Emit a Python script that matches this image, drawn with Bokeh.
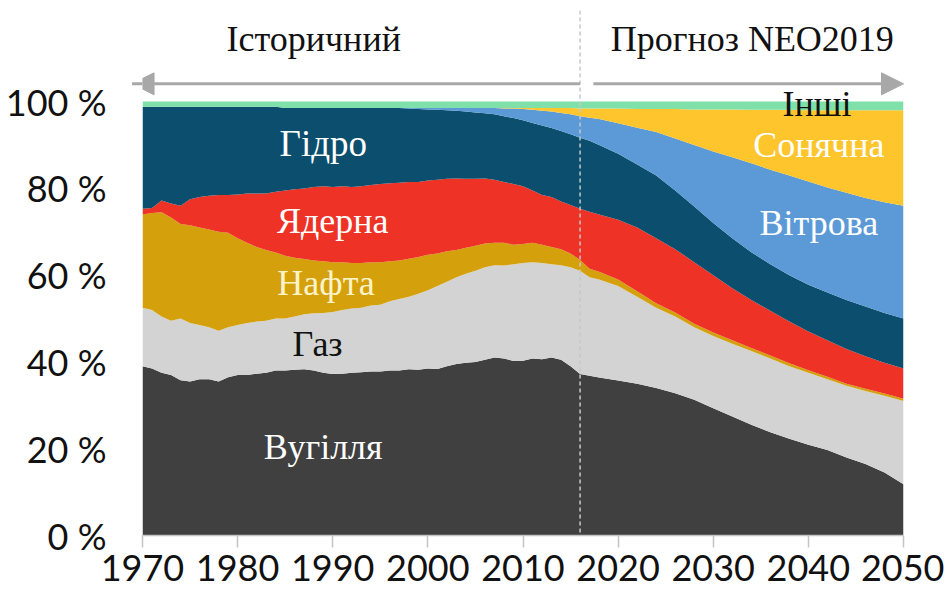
from bokeh.plotting import figure
from bokeh.models import ColumnDataSource, Range1d, FixedTicker, Span, Label, Arrow, NormalHead
from bokeh.embed import file_html
from bokeh.resources import INLINE

# ---------------- data (shares of power generation, %) ----------------
years = [1970, 1971, 1972, 1973, 1974, 1975, 1976, 1977, 1978, 1979,
         1980, 1981, 1982, 1983, 1984, 1985, 1986, 1987, 1988, 1989,
         1990, 1991, 1992, 1993, 1994, 1995, 1996, 1997, 1998, 1999,
         2000, 2001, 2002, 2003, 2004, 2005, 2006, 2007, 2008, 2009,
         2010, 2011, 2012, 2013, 2014, 2015, 2016,
         2017, 2018, 2020, 2022, 2024, 2026, 2028, 2030, 2032, 2034,
         2036, 2038, 2040, 2042, 2044, 2046, 2048, 2050]

coal = [39.0, 38.5, 37.5, 37.0, 35.8, 35.5, 36.0, 36.0, 35.5, 36.5,
        37.0, 37.0, 37.3, 37.5, 38.0, 38.0, 38.2, 38.3, 38.0, 37.5,
        37.2, 37.3, 37.5, 37.6, 37.8, 37.8, 38.0, 38.0, 38.3, 38.2,
        38.5, 38.4, 39.0, 39.5, 39.8, 40.0, 40.5, 41.0, 40.8, 40.2,
        40.3, 40.8, 40.6, 41.0, 40.5, 39.0, 37.2,
        36.8, 36.4, 35.7, 35.0, 34.0, 32.8, 31.3, 29.3, 27.4, 25.5,
        23.8, 22.3, 20.9, 19.7, 18.0, 16.5, 14.5, 11.8]

gas = [13.5, 13.5, 13.0, 12.5, 14.2, 13.5, 12.5, 12.0, 11.7, 11.5,
       11.5, 12.0, 12.0, 12.0, 12.0, 12.0, 12.3, 12.7, 13.2, 13.8,
       14.3, 14.7, 14.8, 14.9, 15.2, 15.4, 16.0, 16.5, 16.7, 17.5,
       18.0, 19.1, 19.5, 20.0, 20.5, 21.0, 21.3, 21.3, 21.4, 22.3,
       22.5, 22.2, 22.2, 21.5, 21.8, 22.8, 23.8,
       22.7, 22.6, 21.8, 20.0, 18.5, 17.7, 16.7, 16.7, 16.8, 17.0,
       17.0, 16.7, 16.6, 16.3, 16.5, 16.8, 17.7, 19.2]

oil = [21.5, 22.3, 24.0, 23.8, 21.8, 22.5, 22.5, 22.5, 22.8, 21.8,
       20.0, 18.5, 17.2, 16.3, 15.2, 14.5, 13.5, 12.7, 12.2, 11.9,
       11.5, 11.0, 10.5, 10.3, 10.0, 9.8, 9.2, 8.9, 8.8, 8.5,
       8.2, 7.5, 7.0, 6.3, 6.0, 5.8, 5.5, 5.2, 5.3, 4.5,
       4.4, 4.5, 4.2, 4.0, 3.7, 3.2, 2.5,
       2.0, 1.8, 1.5, 1.3, 1.0, 0.9, 0.8, 0.8, 0.8, 0.7,
       0.7, 0.7, 0.6, 0.6, 0.5, 0.5, 0.5, 0.5]

nuclear = [1.3, 1.2, 2.7, 3.2, 4.2, 6.0, 7.0, 7.8, 8.5, 8.7,
           10.1, 11.3, 12.3, 13.0, 14.0, 15.0, 15.8, 16.3, 16.9, 17.3,
           17.3, 17.5, 17.5, 17.7, 17.8, 18.0, 18.0, 17.9, 17.7, 17.3,
           17.1, 17.0, 16.7, 16.5, 15.9, 15.4, 15.0, 14.5, 14.0, 14.0,
           13.3, 12.0, 11.5, 11.5, 11.0, 11.2, 11.8,
           13.1, 13.2, 13.8, 14.7, 15.0, 14.6, 14.2, 13.2, 12.0, 11.1,
           10.3, 9.6, 8.9, 8.4, 8.0, 7.5, 7.1, 7.0]

hydro = [23.5, 23.3, 21.6, 22.3, 22.8, 21.3, 20.8, 20.5, 20.3, 20.3,
         20.2, 20.0, 20.0, 20.0, 19.6, 19.0, 18.7, 18.5, 18.2, 18.0,
         18.2, 18.0, 18.2, 18.0, 17.7, 17.5, 17.3, 17.2, 16.9, 16.8,
         16.4, 16.1, 15.8, 15.6, 15.5, 15.3, 15.0, 15.1, 15.1, 15.2,
         15.2, 15.6, 16.0, 15.9, 16.2, 16.3, 16.4,
         16.4, 16.0, 15.2, 14.5, 14.5, 13.5, 12.8, 12.0, 11.5, 11.0,
         10.7, 10.7, 10.8, 11.0, 11.3, 11.5, 11.5, 11.5]

wind = [0.0, 0.0, 0.0, 0.0, 0.0, 0.0, 0.0, 0.0, 0.0, 0.0,
        0.0, 0.0, 0.0, 0.0, 0.0, 0.0, 0.0, 0.0, 0.0, 0.0,
        0.0, 0.0, 0.0, 0.0, 0.0, 0.0, 0.0, 0.0, 0.1, 0.2,
        0.3, 0.4, 0.5, 0.6, 0.8, 1.0, 1.2, 1.4, 1.8, 2.2,
        2.6, 3.0, 3.4, 3.8, 4.2, 4.6, 4.9,
        5.3, 6.0, 7.0, 8.5, 10.0, 12.0, 14.2, 16.5, 18.7, 20.5,
        21.8, 23.0, 23.8, 24.2, 24.7, 25.0, 25.5, 26.0]

solar = [0.0, 0.0, 0.0, 0.0, 0.0, 0.0, 0.0, 0.0, 0.0, 0.0,
         0.0, 0.0, 0.0, 0.0, 0.0, 0.0, 0.0, 0.0, 0.0, 0.0,
         0.0, 0.0, 0.0, 0.0, 0.0, 0.0, 0.0, 0.0, 0.0, 0.0,
         0.0, 0.0, 0.0, 0.0, 0.0, 0.0, 0.0, 0.0, 0.1, 0.1,
         0.2, 0.4, 0.6, 0.8, 1.1, 1.4, 1.8,
         2.1, 2.4, 3.4, 4.3, 5.3, 6.8, 8.2, 9.7, 11.0, 12.3,
         13.8, 15.1, 16.4, 17.8, 19.0, 20.2, 21.2, 22.0]

other = [1.2, 1.2, 1.2, 1.2, 1.2, 1.2, 1.2, 1.2, 1.2, 1.2,
         1.2, 1.2, 1.2, 1.2, 1.2, 1.5, 1.5, 1.5, 1.5, 1.5,
         1.5, 1.5, 1.5, 1.5, 1.5, 1.5, 1.5, 1.5, 1.5, 1.5,
         1.5, 1.5, 1.5, 1.5, 1.5, 1.5, 1.5, 1.5, 1.5, 1.5,
         1.5, 1.5, 1.5, 1.5, 1.5, 1.5, 1.6,
         1.6, 1.6, 1.6, 1.7, 1.7, 1.7, 1.8, 1.8, 1.8, 1.9,
         1.9, 1.9, 2.0, 2.0, 2.0, 2.0, 2.0, 2.0]

series_keys = ["coal", "gas", "oil", "nuclear", "hydro", "wind", "solar", "other"]
series_names = ["Вугілля", "Газ", "Нафта", "Ядерна", "Гідро", "Вітрова", "Сонячна", "Інші"]
forecast_start = 2016
y_ticks = [0, 20, 40, 60, 80, 100]
x_ticks = [1970, 1980, 1990, 2000, 2010, 2020, 2030, 2040, 2050]

colors = ["#404040", "#d3d3d3", "#d4a00b", "#ee3226", "#0b4e6d",
          "#5b9ad6", "#fec52c", "#7fe1a9"]

source = ColumnDataSource(dict(year=years, coal=coal, gas=gas, oil=oil,
                               nuclear=nuclear, hydro=hydro, wind=wind,
                               solar=solar, other=other))

p = figure(width=944, height=594, output_backend="svg", toolbar_location=None,
           x_range=Range1d(1970, 2050), y_range=Range1d(0, 121),
           min_border_left=142, min_border_right=41, min_border_top=10,
           min_border_bottom=59)
p.outline_line_color = None
p.background_fill_color = "white"
p.border_fill_color = "white"
p.grid.visible = False

p.varea_stack(stackers=series_keys, x="year", color=colors, source=source)

# axes
ax = p.xaxis[0]
ax.ticker = FixedTicker(ticks=x_ticks)
ax.axis_line_color = "#c4c4c4"
ax.axis_line_width = 1.5
ax.major_tick_line_color = "#c4c4c4"
ax.major_tick_line_width = 1.5
ax.major_tick_in = 0
ax.major_tick_out = 12
ax.minor_tick_line_color = None
ax.major_label_standoff = 7
ax.major_label_text_font = "Lato"
ax.major_label_text_font_size = "36px"
ax.major_label_text_color = "#111111"

ay = p.yaxis[0]
ay.ticker = FixedTicker(ticks=y_ticks)
ay.major_label_overrides = {t: f"{t} %" for t in y_ticks}
ay.axis_line_color = None
ay.major_tick_line_color = None
ay.minor_tick_line_color = None
ay.major_label_standoff = 30
ay.major_label_text_font = "Lato"
ay.major_label_text_font_size = "36px"
ay.major_label_text_color = "#111111"

# dashed divider between history and forecast
p.add_layout(Span(location=forecast_start, dimension="height", line_color="#c8c8c8",
                  line_width=1.5, line_dash="4 3"))

# arrows
arrow_col = "#a8a8a8"
p.add_layout(Arrow(start=NormalHead(size=22, fill_color=arrow_col, line_color=arrow_col),
                   end=None, x_start=1968.9, y_start=104.1, x_end=2016, y_end=104.1,
                   line_color=arrow_col, line_width=3))
p.add_layout(Arrow(end=NormalHead(size=22, fill_color=arrow_col, line_color=arrow_col),
                   x_start=2017.4, y_start=104.1, x_end=2050, y_end=104.1,
                   line_color=arrow_col, line_width=3))

serif = "Liberation Serif"


def lab(x, y, text, color, size="36px"):
    p.add_layout(Label(x=x, y=y, text=text, text_align="center", text_baseline="middle",
                       text_font=serif, text_font_size=size, text_color=color))


lab(1988.0, 114.5, "Історичний", "#111111")
lab(2034.1, 114.5, "Прогноз NEO2019", "#111111")
lab(1989.0, 90.3, series_names[4], "white", "37px")
lab(1990.0, 72.6, series_names[3], "white")
lab(1989.3, 58.3, series_names[2], "#fdf3c8")
lab(1988.4, 44.2, series_names[1], "#111111")
lab(1989.0, 20.3, series_names[0], "white")
lab(2040.9, 99.5, series_names[7], "#111111")
lab(2041.1, 89.9, series_names[6], "white")
lab(2041.1, 72.1, series_names[5], "white")

open("out.html", "w").write(file_html(p, INLINE))
